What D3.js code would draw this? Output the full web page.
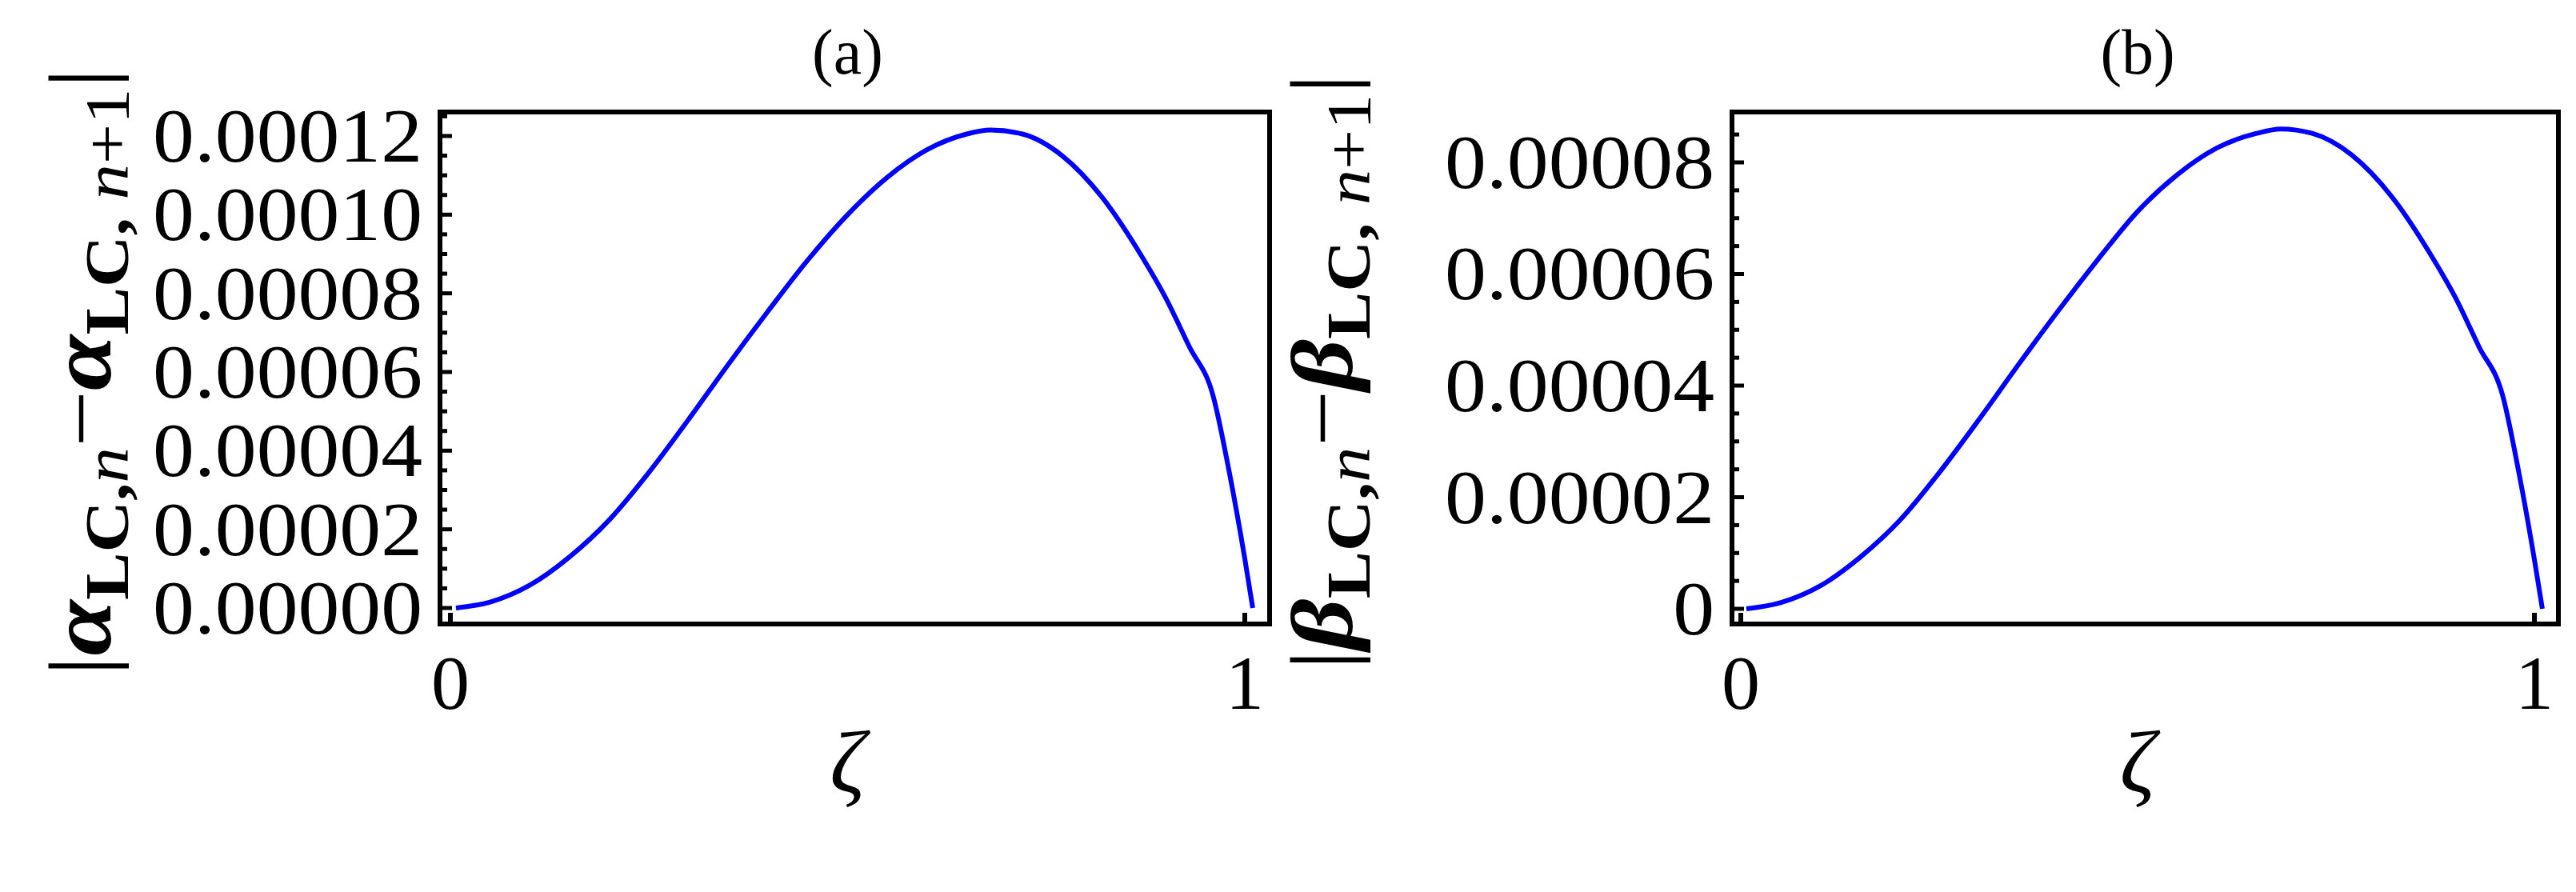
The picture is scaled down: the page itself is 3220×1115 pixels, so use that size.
<!DOCTYPE html>
<html>
<head>
<meta charset="utf-8">
<script src="https://cdn.jsdelivr.net/npm/d3@7"></script>
<style>
  body { margin: 0; background: #fff; }
  text { font-family: "Liberation Serif", "Times New Roman", serif; fill: #000; }
</style>
</head>
<body>
<svg id="chart" width="3220" height="1115"></svg>
<script>
// values
const zeta = [0.007, 0.05, 0.1, 0.15, 0.2, 0.25, 0.3, 0.35, 0.4, 0.45, 0.5, 0.55, 0.6, 0.65, 0.68,
              0.72, 0.77, 0.82, 0.87, 0.9, 0.93, 0.96, 0.98, 1.0, 1.01];
const alphaDiff = [0, 0.0000015, 0.0000058, 0.0000130, 0.0000224, 0.0000345, 0.0000480, 0.0000620,
                   0.0000755, 0.0000885, 0.0001000, 0.0001095, 0.0001165, 0.0001205, 0.0001215,
                   0.0001205, 0.0001150, 0.0001045, 0.0000895, 0.0000790, 0.0000665, 0.0000540,
                   0.0000350, 0.0000125, 0];
const betaDiff = [0, 0.0000011, 0.0000041, 0.0000092, 0.0000158, 0.0000244, 0.0000339, 0.0000438,
                  0.0000534, 0.0000626, 0.0000712, 0.0000778, 0.0000826, 0.0000852, 0.0000860,
                  0.0000852, 0.0000813, 0.0000739, 0.0000633, 0.0000559, 0.0000470, 0.0000382,
                  0.0000247, 0.0000088, 0];
const alphaTicks = [0, 0.00002, 0.00004, 0.00006, 0.00008, 0.00010, 0.00012];
const alphaTickLabels = ["0.00000", "0.00002", "0.00004", "0.00006", "0.00008", "0.00010", "0.00012"];
const betaTicks = [0, 0.00002, 0.00004, 0.00006, 0.00008];
const betaTickLabels = ["0", "0.00002", "0.00004", "0.00006", "0.00008"];
const xTicks = [0, 1];

const svg = d3.select("#chart");

const panels = [
  { title: "(a)", sym: "α", vals: alphaDiff, ticks: alphaTicks, labels: alphaTickLabels,
    left: 550, right: 1587, xd: [-0.0131, 1.0312], yd: [-0.00000407, 0.0001261], ylabX: 103, ylabW: 760 },
  { title: "(b)", sym: "β", vals: betaDiff, ticks: betaTicks, labels: betaTickLabels,
    left: 2165, right: 3198, xd: [-0.0111, 1.0302], yd: [-0.00000272, 0.00008903], ylabX: 1655, ylabW: 745 }
];
const plotTop = 140, plotBottom = 780;

panels.forEach(p => {
  const x = d3.scaleLinear().domain(p.xd).range([p.left, p.right]);
  const y = d3.scaleLinear().domain(p.yd).range([plotBottom, plotTop]);
  const g = svg.append("g");

  // minor ticks on y
  const step = p.ticks[1] - p.ticks[0];
  const minors = [];
  p.ticks.forEach(t => { for (let k = 1; k < 4; k++) { const v = t + k * step / 4; if (v < p.yd[1]) minors.push(v); } });
  g.selectAll(".minor").data(minors).join("line")
    .attr("x1", p.left).attr("x2", p.left + 9)
    .attr("y1", d => y(d)).attr("y2", d => y(d))
    .attr("stroke", "#000").attr("stroke-width", 5);
  g.selectAll(".major").data(p.ticks).join("line")
    .attr("x1", p.left).attr("x2", p.left + 15)
    .attr("y1", d => y(d)).attr("y2", d => y(d))
    .attr("stroke", "#000").attr("stroke-width", 5);
  g.selectAll(".xt").data(xTicks).join("line")
    .attr("x1", d => x(d)).attr("x2", d => x(d))
    .attr("y1", plotBottom).attr("y2", plotBottom - 14)
    .attr("stroke", "#000").attr("stroke-width", 6);

  // tick labels
  const rightEdge = p.left - 22;
  p.ticks.forEach((t, i) => {
    g.append("text")
      .attr("transform", `translate(${rightEdge},${y(t) + 32}) scale(1.08,1)`)
      .attr("text-anchor", "end").attr("font-size", 96).text(p.labels[i]);
  });
  xTicks.forEach(t => {
    g.append("text").attr("x", x(t)).attr("y", 886)
      .attr("text-anchor", "middle").attr("font-size", 96).text(t);
  });

  // curve
  g.append("path").datum(zeta.map((z, i) => [z, p.vals[i]]))
    .attr("d", d3.line().x(d => x(d[0])).y(d => y(d[1])).curve(d3.curveMonotoneX))
    .attr("fill", "none").attr("stroke", "#0000ff").attr("stroke-width", 6);

  // frame
  g.append("rect").attr("x", p.left).attr("y", plotTop)
    .attr("width", p.right - p.left).attr("height", plotBottom - plotTop)
    .attr("fill", "none").attr("stroke", "#000").attr("stroke-width", 6);

  // title and x label
  const cx = (x(0) + x(1)) / 2;
  g.append("text").attr("x", cx).attr("y", 92).attr("text-anchor", "middle")
    .attr("font-size", 80).text(p.title);
  g.append("text").attr("x", cx).attr("y", 990).attr("text-anchor", "middle")
    .attr("font-size", 110).attr("font-style", "italic").text("ζ");

  // y label
  const lab = g.append("text").attr("font-size", 110).attr("text-anchor", "middle");
  lab.append("tspan").text("|");
  lab.append("tspan").attr("font-style", "italic").attr("font-weight", "bold").text(p.sym);
  lab.append("tspan").attr("font-size", 78).attr("dy", 22).attr("font-weight", "bold").text("LC,");
  lab.append("tspan").attr("font-size", 78).attr("font-style", "italic").text("n");
  lab.append("tspan").attr("dy", -22).text("−");
  lab.append("tspan").attr("font-style", "italic").attr("font-weight", "bold").text(p.sym);
  lab.append("tspan").attr("font-size", 78).attr("dy", 22).attr("font-weight", "bold").text("LC, ");
  lab.append("tspan").attr("font-size", 78).attr("font-style", "italic").text("n");
  lab.append("tspan").attr("font-size", 78).text("+1");
  lab.append("tspan").attr("dy", -22).text("|");
  const w = lab.node().getBBox().width;
  lab.attr("transform", `translate(${p.ylabX + 35},${(plotTop + plotBottom) / 2 + 5}) rotate(-90) scale(${p.ylabW / w},1)`);
});
</script>
</body>
</html>
